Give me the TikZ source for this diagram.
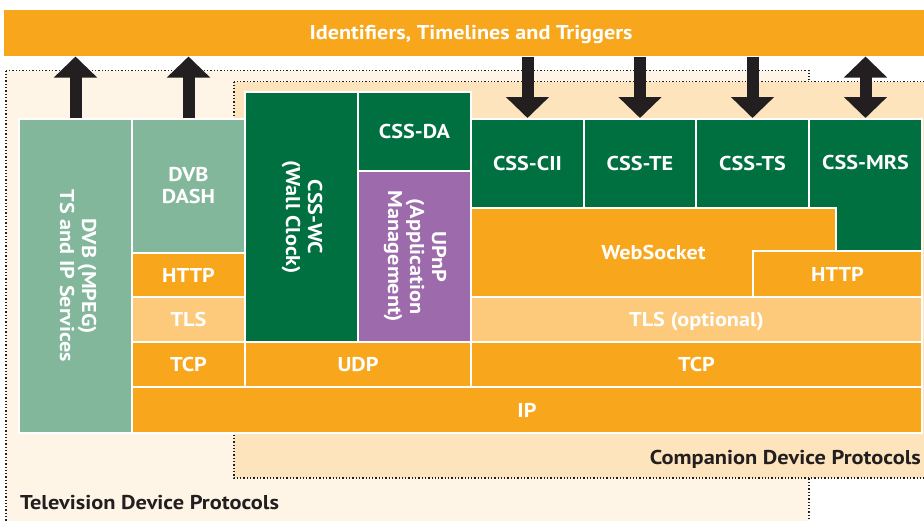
\documentclass[tikz,border=0pt]{standalone}
\usepackage{fontspec}
\setmainfont[FakeStretch=1.11]{PT Sans}
\newfontfamily\condfont[FakeStretch=1.12]{PT Sans}
\usetikzlibrary{arrows.meta}
\definecolor{layerorange}{HTML}{F8A61C}
\definecolor{layerlight}{HTML}{FDC97B}
\definecolor{layersage}{HTML}{82B79C}
\definecolor{layergreen}{HTML}{007040}
\definecolor{layerpurple}{HTML}{9D6BAC}
\definecolor{tvbg}{HTML}{FFF5E7}
\definecolor{compbg}{HTML}{FDE4BC}
\definecolor{inkdark}{HTML}{231F20}
\tikzset{
  block/.style={
    rectangle, draw=white, line width=2pt, inner sep=0pt,
    text=white, align=center,
    font=\fontsize{20}{22}\selectfont\bfseries
  },
  layer/.style={block, text height=14pt, text depth=0pt},
  bigarrow/.style={line width=12pt, color=inkdark, -{Triangle[width=42pt,length=21pt]}},
  region/.style={draw=inkdark, line width=1.3pt, dash pattern=on 1.3pt off 2pt},
  regionlabel/.style={
    inner sep=0pt, text=inkdark,
    font=\condfont\fontsize{20}{22}\selectfont\bfseries
  },
}

\begin{document}
\begin{tikzpicture}[x=1pt, y=-1pt]
  \useasboundingbox (0,0) rectangle (924,520);
  \fill[white] (0,0) rectangle (924,520);

  % device areas
  \draw[region, fill=tvbg] (6,70.5) rectangle (809,560);
  \draw[region, fill=compbg] (234,81.5) rectangle (945,478);
  \node[regionlabel, anchor=base west] (tvlabel) at (20,509) {Television Device Protocols};
  \node[regionlabel, anchor=base east] (complabel) at (921,464) {Companion Device Protocols};

  % top bar
  \node[layer, draw=none, fill=layerorange, minimum width=934pt, minimum height=45.5pt] (itt) at (471,32.75)
        {Identifiers, Timelines and Triggers};

  % television stack
  \node[block, fill=layersage, minimum width=113pt, minimum height=314pt] (mpeg) at (75.5,276)
        {\rotatebox{-90}{\begin{tabular}{@{}c@{}}DVB (MPEG)\\TS and IP Services\end{tabular}}};
  \node[block, fill=layersage, minimum width=113pt, minimum height=134pt] (dash) at (188.5,186) {DVB\\DASH};
  \node[layer, fill=layerorange, minimum width=113pt, minimum height=44pt] (httpa) at (188.5,275) {HTTP};
  \node[layer, fill=layerlight, minimum width=113pt, minimum height=45pt] (tlsa) at (188.5,319.5) {TLS};
  \node[layer, fill=layerorange, minimum width=113pt, minimum height=45pt] (tcpa) at (188.5,364.5) {TCP};
  \node[block, fill=layergreen, minimum width=113pt, minimum height=250pt] (wc) at (301.5,217)
        {\rotatebox{-90}{\begin{tabular}{@{}c@{}}CSS-WC\\(Wall Clock)\end{tabular}}};
  \node[layer, fill=layergreen, minimum width=113pt, minimum height=79pt] (da) at (414.5,131.5) {CSS-DA};
  \node[block, fill=layerpurple, minimum width=113pt, minimum height=171pt] (upnp) at (414.5,256.5)
        {\rotatebox{-90}{\begin{tabular}{@{}c@{}}UPnP\\(Application\\Management)\end{tabular}}};
  \node[layer, fill=layerorange, minimum width=226pt, minimum height=45pt] (udp) at (358,364.5) {UDP};

  % companion stack
  \node[layer, fill=layergreen, minimum width=113pt, minimum height=89pt] (cii) at (527.5,163.5) {CSS-CII};
  \node[layer, fill=layergreen, minimum width=112pt, minimum height=89pt] (te) at (640,163.5) {CSS-TE};
  \node[layer, fill=layergreen, minimum width=113pt, minimum height=89pt] (ts) at (752.5,163.5) {CSS-TS};
  \node[block, fill=layergreen, minimum width=113pt, minimum height=132pt] (mrs) at (865.5,185) {};
  \node[layer, fill=none, draw=none] (mrslabel) at ([yshift=-44.5pt]mrs.north) {CSS-MRS};
  \node[layer, fill=layerorange, minimum width=365pt, minimum height=89pt] (ws) at (653.5,252.5) {WebSocket};
  \node[layer, fill=layerorange, minimum width=169pt, minimum height=46pt] (httpb) at (837.5,274) {HTTP};
  \node[layer, fill=layerlight, minimum width=451pt, minimum height=45pt] (tlsb) at (696.5,319.5) {TLS (optional)};
  \node[layer, fill=layerorange, minimum width=451pt, minimum height=45pt] (tcpb) at (696.5,364.5) {TCP};

  % shared network layer
  \node[layer, fill=layerorange, minimum width=790pt, minimum height=46pt] (ip) at (527,410) {IP};

  % links to the top bar
  \draw[bigarrow] (mpeg.north) -- (mpeg.north |- itt.south);
  \draw[bigarrow] (dash.north) -- (dash.north |- itt.south);
  \draw[bigarrow] (cii.north |- itt.south) -- (cii.north);
  \draw[bigarrow] (te.north |- itt.south) -- (te.north);
  \draw[bigarrow] (ts.north |- itt.south) -- (ts.north);
  \draw[bigarrow, {Triangle[width=42pt,length=21pt]}-{Triangle[width=42pt,length=21pt]}]
    (mrs.north |- itt.south) -- (mrs.north);
\end{tikzpicture}
\end{document}
